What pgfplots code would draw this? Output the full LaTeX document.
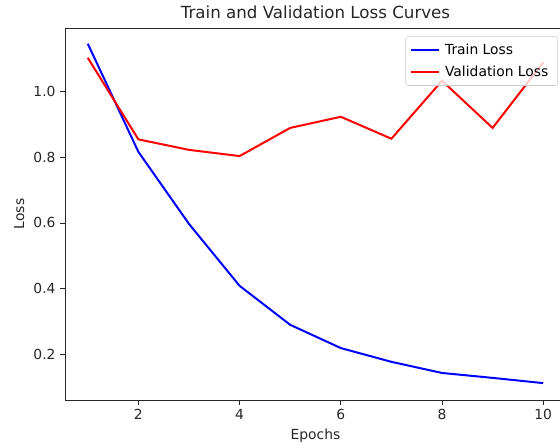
\documentclass[border=0pt]{standalone}
\usepackage{pgfplots}
\pgfplotsset{compat=1.18}
\usepackage{fontspec}
\setmainfont{DejaVu Sans}
\begin{document}
\begin{tikzpicture}
\path[use as bounding box] (0pt,0pt) rectangle (420pt,336pt);
\begin{scope}
\clip (0pt,0pt) rectangle (420pt,336pt);
\begin{axis}[
  at={(48.75pt,36pt)}, anchor=south west,
  scale only axis, width=375.75pt, height=279pt,
  xmin=0.55, xmax=10.45, ymin=0.0595, ymax=1.195,
  xtick={2,4,6,8,10}, ytick={0.2,0.4,0.6,0.8,1.0},
  yticklabel style={/pgf/number format/.cd,fixed,fixed zerofill,precision=1},
  /pgf/number format/assume math mode=true,
  tick align=outside, tick pos=left, major tick length=3.6pt,
  tick style={black!85, line width=0.6pt},
  axis line style={black!85, line width=0.6pt},
  ticklabel style={font=\fontsize{10.4}{12}\selectfont, text=black!85},
  xlabel={Epochs}, ylabel={Loss},
  label style={font=\fontsize{10.4}{12}\selectfont, text=black!85},
  title={Train and Validation Loss Curves},
  title style={font=\fontsize{12.5}{14}\selectfont, text=black!85, yshift=-2.5pt},
  legend style={at={(0.984,0.978)}, anchor=north east, draw=black!20, rounded corners=2pt,
    fill=white, fill opacity=0.8, text opacity=1, font=\fontsize{10.4}{12}\selectfont,
    inner xsep=3pt, inner ysep=3.5pt, row sep=3pt,
    nodes={inner xsep=4pt}},
  legend cell align=left,
  legend image code/.code={\draw[#1] (0pt,0pt) -- (21pt,0pt);},
]
\addplot[blue, line width=1.5pt] coordinates {
(1,1.147) (2,0.817) (3,0.597) (4,0.408) (5,0.289) (6,0.218) (7,0.176) (8,0.142) (9,0.127) (10,0.111)};
\addlegendentry{Train Loss}
\addplot[red, line width=1.5pt] coordinates {
(1,1.104) (2,0.855) (3,0.823) (4,0.804) (5,0.890) (6,0.924) (7,0.857) (8,1.034) (9,0.890) (10,1.090)};
\addlegendentry{Validation Loss}
\end{axis}
\end{scope}
\end{tikzpicture}
\end{document}
